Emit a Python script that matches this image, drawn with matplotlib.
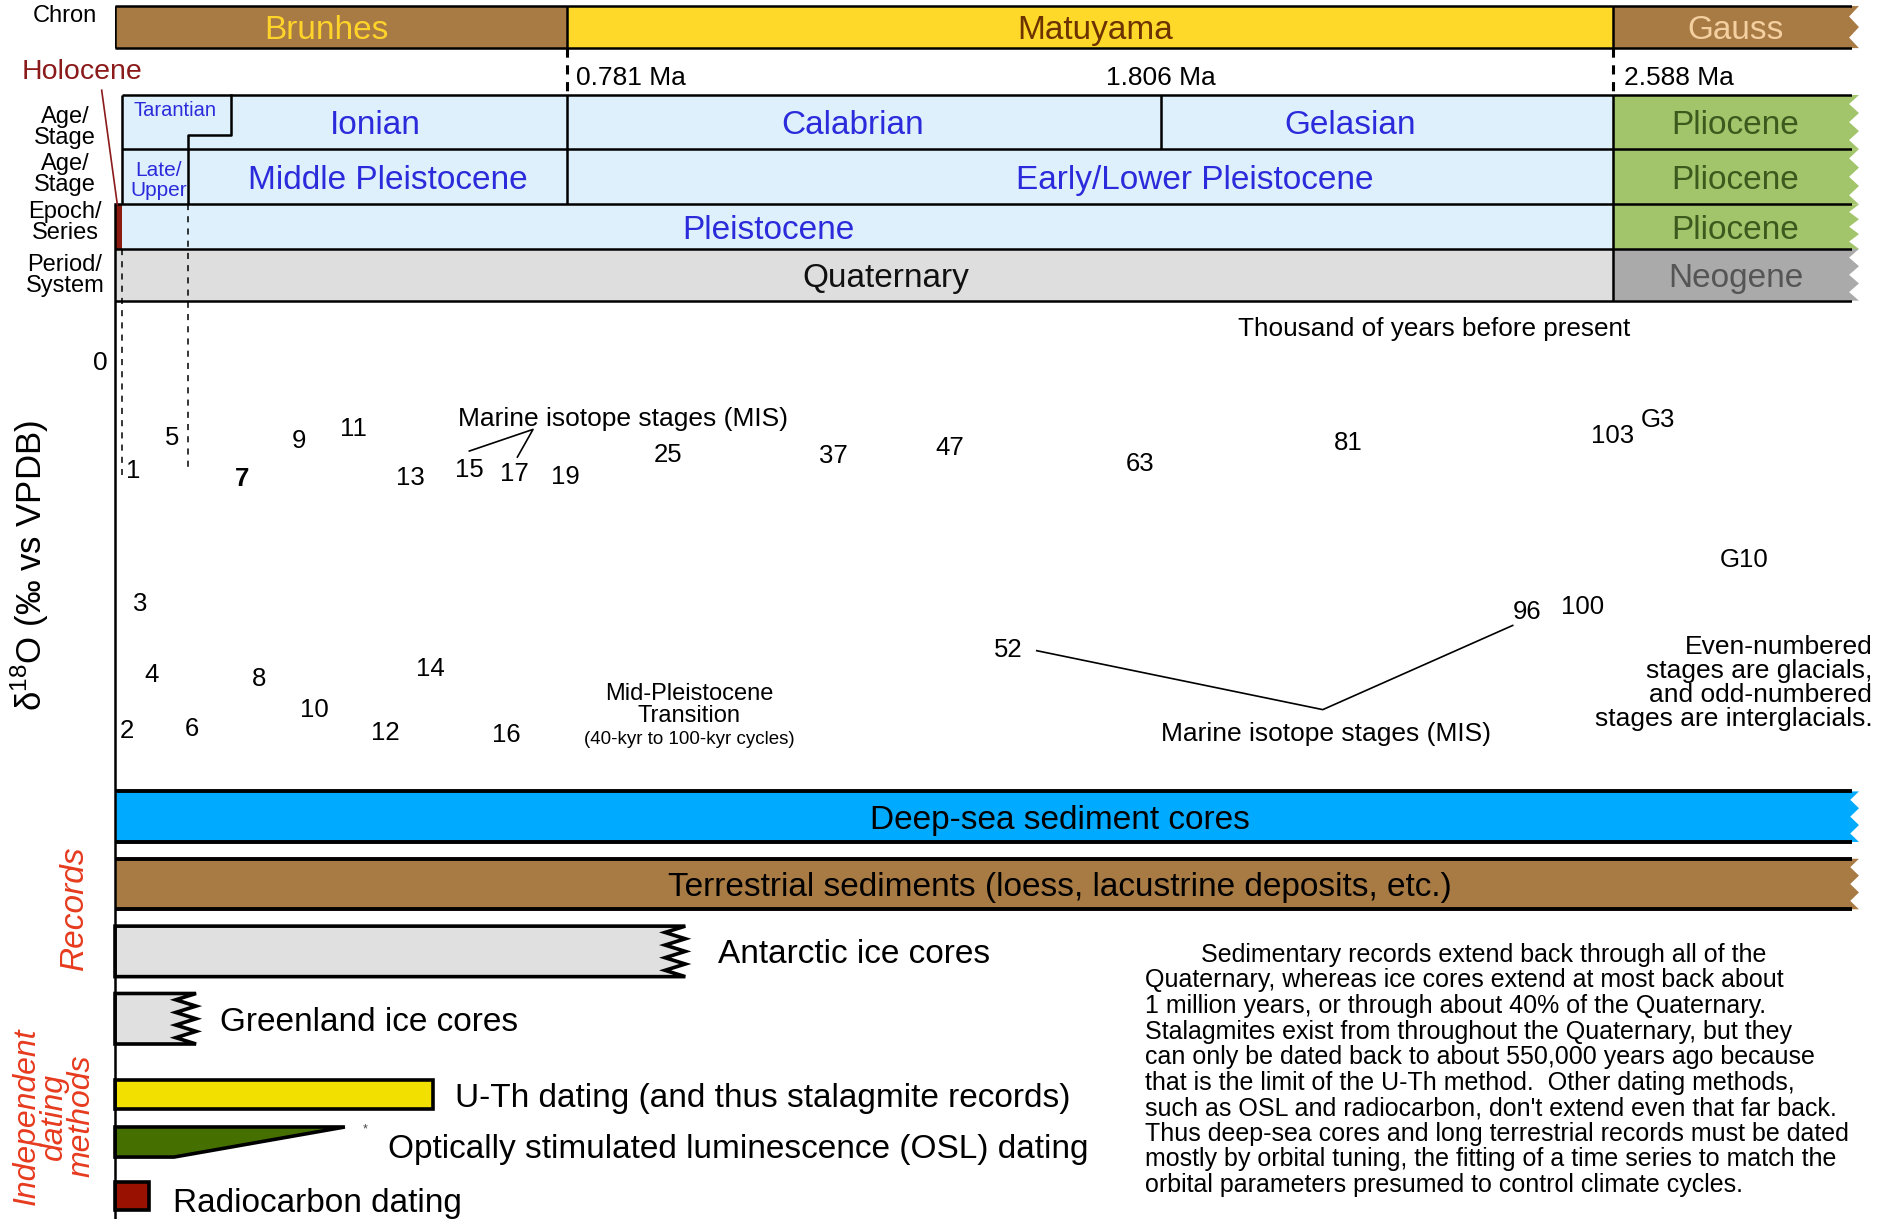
import numpy as np
import matplotlib.pyplot as plt
from matplotlib.patches import Polygon

plt.rcParams['font.family'] = ['Liberation Sans', 'DejaVu Sans']
plt.rcParams['mathtext.fontset'] = 'custom'
plt.rcParams['mathtext.rm'] = 'Liberation Sans'

# ---- data: ages in thousand years before present ----
chron_names = ['Brunhes', 'Matuyama', 'Gauss']
chron_bounds = [0, 781, 2588, 3000]
chron_label_ka = [365, 1692, 2799]

boundary_ages = [781, 1806, 2588]
boundary_labels = ['0.781 Ma', '1.806 Ma', '2.588 Ma']

holocene_start = 11.7
late_start = 126
tarantian_box_end = 201

stage_names = ['Ionian', 'Calabrian', 'Gelasian', 'Pliocene']
stage_bounds = [126, 781, 1806, 2588, 3000]
stage_label_ka = [450, 1273, 2134, 2799]

subseries_names = ['Late/\nUpper', 'Middle Pleistocene', 'Early/Lower Pleistocene', 'Pliocene']
subseries_bounds = [11.7, 126, 781, 2588, 3000]
subseries_label_ka = [75, 471, 1864, 2799]

series_names = ['Pleistocene', 'Pliocene']
series_bounds = [11.7, 2588, 3000]
series_label_ka = [1129, 2799]

system_names = ['Quaternary', 'Neogene']
system_bounds = [0, 2588, 3000]
system_label_ka = [1331, 2799]

# marine isotope stage labels (age, d18O-like position)
mis_labels = ['1', '2', '3', '4', '5', '6', '7', '8', '9', '10', '11', '12', '13', '14',
              '15', '16', '17', '19', '25', '37', '47', '52', '63', '81', '96', '100',
              '103', 'G3', 'G10']
mis_age = [31, 21, 44, 64, 98, 133, 220, 249, 318, 345, 411, 467, 511, 544,
           612, 675, 689, 778, 955, 1241, 1441, 1542, 1771, 2130, 2439, 2535,
           2587, 2664, 2813]
mis_d18o = [0.89, 3.05, 2.00, 2.59, 0.62, 3.04, 0.96, 2.62, 0.64, 2.88, 0.54, 3.07, 0.95, 2.54,
            0.88, 3.09, 0.92, 0.94, 0.76, 0.77, 0.70, 2.38, 0.83, 0.66, 2.06, 2.02,
            0.60, 0.47, 1.63]

record_names = ['Deep-sea sediment cores',
                'Terrestrial sediments (loess, lacustrine deposits, etc.)',
                'Antarctic ice cores', 'Greenland ice cores']
record_ends = [3000, 3000, 985, 140]

dating_names = ['U-Th dating (and thus stalagmite records)',
                'Optically stimulated luminescence (OSL) dating',
                'Radiocarbon dating']
dating_ends = [550, 397, 59]
osl_bottom_end = 102

# ---- layout (reference frame is 1568 x 1013.5 units) ----
PW, PH = 1568.0, 1013.5
def fx(x):
    return x / PW
def fy(y):
    return 1 - y / PH

fig = plt.figure(figsize=(18.86, 12.19), dpi=100)
AX_L, AX_R = 115 / 1886, 1852 / 1886
ax = fig.add_axes([AX_L, 0, AX_R - AX_L, 1])
ax.set_xlim(0, 3000)
ax.set_ylim(PH, 0)
ax.axis('off')

BROWN = '#a87a44'
BLUE_FILL = '#ddf0fc'
BLUE_TXT = '#2b2bdc'
GREEN = '#a2c46a'
GREEN_TXT = '#3c5a1e'
LW = 1.8
END = 3012
TNUDGE = 3      # text baseline nudge in layout units
DNUDGE = 0.025  # same nudge in the d18O panel


def jag(x, y0, y1, n, amp):
    ys = np.linspace(y0, y1, 2 * n + 1)
    xs = x - amp * (np.arange(2 * n + 1) % 2)
    return list(zip(xs, ys))


def seg(x0, x1, y0, y1, fc, jagged=False, ec='none', lw=0, n=3, amp=17):
    if jagged:
        pts = [(x0, y0)] + jag(x1, y0, y1, n, amp) + [(x0, y1)]
    else:
        pts = [(x0, y0), (x1, y0), (x1, y1), (x0, y1)]
    ax.add_patch(Polygon(pts, closed=True, fc=fc, ec=ec, lw=lw, clip_on=False, joinstyle='miter'))


# chron row
r0, r1 = 5, 40
chron_fc = [BROWN, '#ffd92a', BROWN]
chron_tc = ['#ffd42a', '#6b3300', '#f4cfa0']
for i, name in enumerate(chron_names):
    last = i == len(chron_names) - 1
    seg(chron_bounds[i], END if last else chron_bounds[i + 1], r0, r1, chron_fc[i], jagged=last, n=2)
    ax.text(chron_label_ka[i], (r0 + r1) / 2 + 3, name, ha='center', va='center',
            fontsize=24, color=chron_tc[i])
ax.hlines([r0, r1], 0, 3003, color='black', lw=LW)
ax.vlines([0, 781, 2588], r0, r1, color='black', lw=LW)

# boundary ages
ax.vlines([781, 2588], r1, 79, color='black', lw=2.2, linestyles=(0, (3, 2.5)))
for a, lab, dx, ha in zip(boundary_ages, boundary_labels, [16, 0, 18], ['left', 'center', 'left']):
    ax.text(a + dx, 65, lab, ha=ha, va='center', fontsize=19)

# stage row
s0, s1 = 79, 124
seg(holocene_start, 2588, s0, s1, BLUE_FILL)
seg(2588, END, s0, s1, GREEN, jagged=True)
ax.text(104, 92, 'Tarantian', ha='center', va='center', fontsize=14.5, color=BLUE_TXT)
for i, name in enumerate(stage_names):
    ax.text(stage_label_ka[i], (s0 + s1) / 2 + 2.5, name, ha='center', va='center', fontsize=24,
            color=GREEN_TXT if name == 'Pliocene' else BLUE_TXT)
ax.vlines([781, 1806, 2588], s0, s1, color='black', lw=LW)
ax.plot([tarantian_box_end, tarantian_box_end, late_start, late_start],
        [s0, 112, 112, s1], color='black', lw=LW)

# subseries row
u0, u1 = 124, 170
seg(holocene_start, 2588, u0, u1, BLUE_FILL)
seg(2588, END, u0, u1, GREEN, jagged=True)
for i, name in enumerate(subseries_names):
    small = i == 0
    ax.text(subseries_label_ka[i], (u0 + u1) / 2 + 3, name, ha='center', va='center',
            fontsize=15 if small else 24, linespacing=1.05,
            color=GREEN_TXT if name == 'Pliocene' else BLUE_TXT)
ax.vlines([126, 781, 2588], u0, u1, color='black', lw=LW)
ax.vlines(holocene_start, s0, u1, color='black', lw=LW)

# series row
e0, e1 = 170, 207
seg(0, holocene_start, e0, e1, '#8b1a10')
seg(holocene_start, 2588, e0, e1, BLUE_FILL)
seg(2588, END, e0, e1, GREEN, jagged=True)
for i, name in enumerate(series_names):
    ax.text(series_label_ka[i], (e0 + e1) / 2 + 3, name, ha='center', va='center', fontsize=24,
            color=GREEN_TXT if name == 'Pliocene' else BLUE_TXT)
ax.vlines([2588], e0, e1, color='black', lw=LW)

# system row
y0, y1 = 207, 250
seg(0, 2588, y0, y1, '#dedede')
seg(2588, END, y0, y1, '#aaaaaa', jagged=True)
for i, name in enumerate(system_names):
    ax.text(system_label_ka[i], (y0 + y1) / 2 + 3, name, ha='center', va='center', fontsize=24,
            color='#555555' if name == 'Neogene' else '#111111')
ax.vlines([2588], y0, y1, color='black', lw=LW)

ax.hlines([s0, u0], holocene_start, 3000, color='black', lw=LW)
ax.hlines([e0, y0, y1], 0, 3000, color='black', lw=LW)

# dashed guides for Holocene and Late Pleistocene
ax.vlines(holocene_start, y0, 395, color='black', lw=1.1, linestyles=(0, (4, 4)))
ax.vlines(late_start, e0, 388, color='black', lw=1.1, linestyles=(0, (4, 4)))

# left axis line
ax.plot([0, 0], [e0, PH], color='black', lw=LW, clip_on=False)

# Holocene label
ax.plot([-23, 4], [75, 170], color='#8b1a1a', lw=1.2, clip_on=False)
fig.text(fx(68), fy(60), 'Holocene', ha='center', va='center', fontsize=20.5, color='#8b1a1a')

# row titles
for lab, yy in [('Chron', 13), ('Age/\nStage', 106), ('Age/\nStage', 145),
                ('Epoch/\nSeries', 185), ('Period/\nSystem', 229)]:
    fig.text(fx(54), fy(yy), lab, ha='center', va='center', fontsize=17, linespacing=0.95)

# ---- d18O panel ----
axd = fig.add_axes([AX_L, fy(658), AX_R - AX_L, (658 - 250) / PH])
axd.set_xlim(0, 3000)
axd.set_ylim(3.58, -0.5)
axd.patch.set_alpha(0)
for sp in axd.spines.values():
    sp.set_visible(False)
axd.set_xticks([])
axd.set_yticks([0])
axd.set_yticklabels(['0'])
axd.tick_params(axis='y', length=0, pad=5, labelsize=19)

for lab, a, d in zip(mis_labels, mis_age, mis_d18o):
    axd.text(a, d + DNUDGE, lab, ha='center', va='center', fontsize=18.5,
             fontweight='bold' if lab == '7' else 'normal')

axd.text(878, 0.46 + DNUDGE, 'Marine isotope stages (MIS)', ha='center', va='center', fontsize=19)
axd.plot([612, 722, 695], [0.75, 0.57, 0.80], color='black', lw=1.2)
axd.text(2091, 3.08 + DNUDGE, 'Marine isotope stages (MIS)', ha='center', va='center', fontsize=19)
axd.plot([1592, 2086, 2414], [2.41, 2.90, 2.20], color='black', lw=1.2)
axd.text(992, 2.84 + DNUDGE, 'Mid-Pleistocene\nTransition', ha='center', va='center', fontsize=17,
         linespacing=1.0)
axd.text(992, 3.12 + DNUDGE, '(40-kyr to 100-kyr cycles)', ha='center', va='center', fontsize=13.5)
axd.text(2279, -0.29 + DNUDGE, 'Thousand of years before present', ha='center', va='center',
         fontsize=18.8)
axd.text(3035, 2.65 + DNUDGE,
         'Even-numbered\nstages are glacials,\nand odd-numbered\nstages are interglacials.',
         ha='right', va='center', fontsize=19, linespacing=1.0)

fig.text(fx(25), fy(470), 'δ$^{18}$O (‰ vs VPDB)', rotation=90, ha='center', va='center',
         fontsize=25)

# ---- records ----
rec_rows = [(658, 700), (714, 756), (770, 812), (826, 868)]
rec_fc = ['#00aaff', BROWN, '#e0e0e0', '#e0e0e0']
rec_gap = [0, 0, 56, 41]
for i, name in enumerate(record_names):
    ra, rb = rec_rows[i]
    if record_ends[i] >= 3000:
        seg(0, END, ra, rb, rec_fc[i], jagged=True, n=3, amp=15)
        ax.hlines([ra, rb], 0, 3000, color='black', lw=2.8)
        ax.text(1632, (ra + rb) / 2 + TNUDGE, name, ha='center', va='center', fontsize=24)
    else:
        seg(0, record_ends[i], ra, rb, rec_fc[i], jagged=True, n=4, amp=35,
            ec='black', lw=2.6)
        ax.text(record_ends[i] + rec_gap[i], (ra + rb) / 2 + TNUDGE, name,
                ha='left', va='center', fontsize=24)

# dating methods
seg(0, dating_ends[0], 898, 922, '#f2e000', ec='black', lw=2.6)
ax.text(dating_ends[0] + 37, 910 + TNUDGE, dating_names[0], ha='left', va='center', fontsize=24)
ax.add_patch(Polygon([(0, 937), (dating_ends[1], 937), (osl_bottom_end, 962), (0, 962)],
                     closed=True, fc='#457000', ec='black', lw=2.6, clip_on=False))
ax.text(dating_ends[1] + 35, 939, '*', ha='center', va='center', fontsize=9, color='#444444')
ax.text(dating_ends[1] + 74, 953 + TNUDGE, dating_names[1], ha='left', va='center', fontsize=24)
seg(0, dating_ends[2], 983, 1006, '#991100', ec='black', lw=2.6)
ax.text(dating_ends[2] + 41, 998 + TNUDGE, dating_names[2], ha='left', va='center', fontsize=24)

RED = '#e63a1e'
fig.text(fx(62), fy(755), 'Records', rotation=90, ha='center', va='center', fontsize=24,
         style='italic', color=RED)
fig.text(fx(45), fy(928), 'Independent\ndating\nmethods', rotation=90, ha='center', va='center',
         fontsize=23, style='italic', color=RED, linespacing=0.9)

para = ("        Sedimentary records extend back through all of the\n"
        "Quaternary, whereas ice cores extend at most back about\n"
        "1 million years, or through about 40% of the Quaternary.\n"
        "Stalagmites exist from throughout the Quaternary, but they\n"
        "can only be dated back to about 550,000 years ago because\n"
        "that is the limit of the U-Th method.  Other dating methods,\n"
        "such as OSL and radiocarbon, don't extend even that far back.\n"
        "Thus deep-sea cores and long terrestrial records must be dated\n"
        "mostly by orbital tuning, the fitting of a time series to match the\n"
        "orbital parameters presumed to control climate cycles.")
fig.text(fx(952), fy(784), para, ha='left', va='top', fontsize=18, linespacing=1.08)

fig.savefig('out.png', dpi=100)
